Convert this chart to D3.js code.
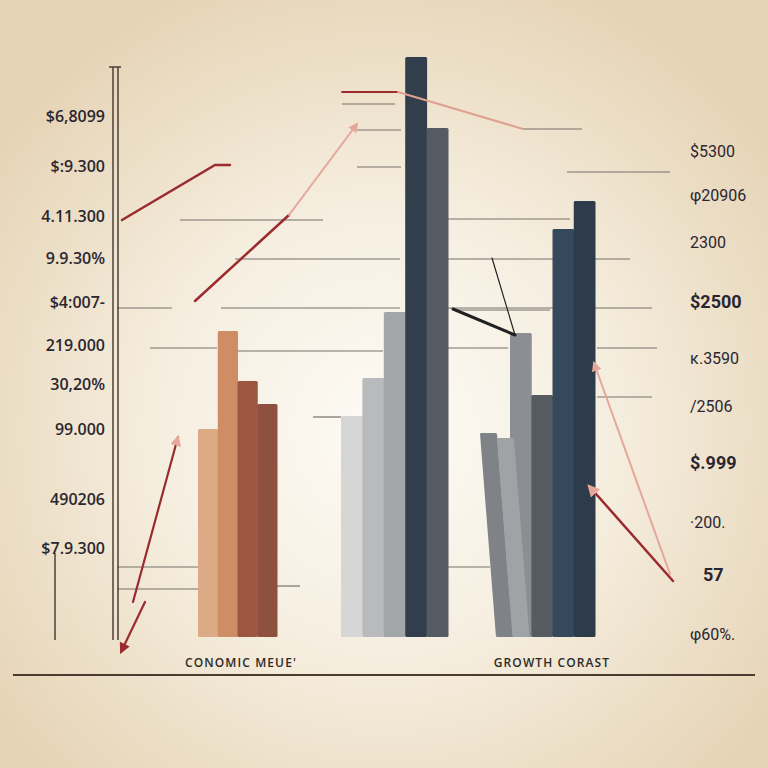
<!DOCTYPE html>
<html><head><meta charset="utf-8">
<script src="https://cdn.jsdelivr.net/npm/d3@7"></script>
<style>html,body{margin:0;padding:0;background:#efe3cc;}svg{display:block;}</style>
</head><body>
<script>
// ---- data ----
const econCategories = ["E1","E2","E3","E4"];
const econValues = [208, 306, 256, 233];
const midCategories = ["M1","M2","M3","M4","M5"];
const midValues = [221, 259, 325, 580, 509];
const growthTiltCategories = ["G1","G2"];
const growthTiltValues = [204, 199];
const growthCategories = ["G3","G4","G5","G6"];
const growthValues = [304, 242, 408, 436];
const leftTickLabels = ["$6,8099","$:9.300","4.11.300","9.9.30%","$4:007-","219.000","30,20%","99.000","490206","$7.9.300"];
const leftTickValues = [521, 471, 421, 379, 335, 292, 253, 208, 138, 89];
const rightTickLabels = ["$5300","\u03C620906","2300","$2500","\u03BA.3590","/2506","$.999","\u00B7200.","57","\u03C660%."];
const rightTickValues = [486, 442, 395, 335, 279, 231, 174, 115, 62, 3];
const groupLabels = ["CONOMIC MEUE'","GROWTH CORAST"];

const econColors = ["#dcaa85","#cf8d66","#9c5641","#8e5140"];
const midColors = ["#d6d6d4","#b8babb","#a3a6a9","#323e4b","#555b62"];
const tiltColors = ["#7f8286","#a0a3a6"];
const growthColors = ["#8b8f93","#565b61","#36495c","#2d3b4a"];

const W = 768, H = 768;
const svg = d3.select("body").append("svg").attr("width", W).attr("height", H);
const defs = svg.append("defs");
const bg = defs.append("radialGradient").attr("id","bg").attr("cx","0.5").attr("cy","0.56").attr("r","0.62");
bg.append("stop").attr("offset","0").attr("stop-color","#fdfbf6");
bg.append("stop").attr("offset","0.45").attr("stop-color","#f6efe1");
bg.append("stop").attr("offset","1").attr("stop-color","#e6d4b6");
svg.append("rect").attr("width",W).attr("height",H).attr("fill","url(#bg)");

function marker(id, color) {
  defs.append("marker").attr("id", id).attr("viewBox","0 0 10 10").attr("refX",8).attr("refY",5)
    .attr("markerWidth",5).attr("markerHeight",5).attr("orient","auto")
    .append("path").attr("d","M0,0 L10,5 L0,10 Z").attr("fill", color);
}
marker("mPink","#e6a69a");
marker("mRed","#9b2b2e");

const y = d3.scaleLinear().domain([0, 580]).range([637, 57]);

// ---- grid fragments ----
const grid = [
  [342,395,533],[523,582,508],[357,401,507],[357,401,470],[567,670,465],
  [180,323,417],[448,570,418],[235,400,378],[448,630,378],
  [117,172,329],[221,400,329],[448,652,329],[453,550,327],
  [150,217,289],[237,383,286],[448,508,289],[597,657,289],[597,652,240],
  [313,341,220],[117,198,70],[448,490,70],[117,198,48],[277,300,51]
];
svg.append("g").selectAll("line").data(grid).join("line")
  .attr("x1",d=>d[0]).attr("x2",d=>d[1]).attr("y1",d=>y(d[2])).attr("y2",d=>y(d[2]))
  .attr("stroke","#77716a").attr("stroke-width",1.2);

// ---- bars ----
function bars(cats, vals, colors, x0, x1, cls, skew) {
  const x = d3.scaleBand().domain(cats).range([x0, x1]).padding(0);
  const g = svg.append("g").attr("class", cls);
  if (skew) g.attr("transform", `translate(0,${y(0)}) skewX(${skew}) translate(0,${-y(0)})`);
  g.selectAll("rect").data(vals).join("rect")
    .attr("x",(d,i)=>x(cats[i])).attr("width",x.bandwidth()+0.5)
    .attr("y",d=>y(d)).attr("height",d=>y(0)-y(d))
    .attr("rx",1.5).attr("fill",(d,i)=>colors[i]);
}
bars(econCategories, econValues, econColors, 198, 277, "econ");
bars(midCategories, midValues, midColors, 341, 448, "mid");
bars(growthCategories, growthValues, growthColors, 510, 595, "growth");
bars(growthTiltCategories, growthTiltValues, tiltColors, 496, 529, "tilt", 4.5);

// ---- axes ----
const ax = svg.append("g").attr("stroke","#4a4038").attr("stroke-width",1.5);
ax.append("line").attr("x1",113).attr("x2",113).attr("y1",67).attr("y2",640);
ax.append("line").attr("x1",118).attr("x2",118).attr("y1",67).attr("y2",640);
ax.append("line").attr("x1",109).attr("x2",121).attr("y1",67).attr("y2",67);
ax.append("line").attr("x1",55).attr("x2",55).attr("y1",553).attr("y2",640);
svg.append("line").attr("x1",13).attr("x2",755).attr("y1",675).attr("y2",675)
  .attr("stroke","#4a3a30").attr("stroke-width",2);

// ---- arrows ----
const arrows = svg.append("g").attr("fill","none").attr("stroke-linecap","round");
arrows.append("polyline").attr("points","122,220 215,165 230,165").attr("stroke","#9b2b2e").attr("stroke-width",2.5);
arrows.append("line").attr("x1",195).attr("y1",301).attr("x2",289).attr("y2",215).attr("stroke","#9b2b2e").attr("stroke-width",2.5);
arrows.append("line").attr("x1",289).attr("y1",215).attr("x2",357).attr("y2",124).attr("stroke","#e6a69a").attr("stroke-width",2).attr("marker-end","url(#mPink)");
arrows.append("line").attr("x1",342).attr("y1",92).attr("x2",398).attr("y2",92).attr("stroke","#9b2b2e").attr("stroke-width",2);
arrows.append("line").attr("x1",398).attr("y1",92).attr("x2",523).attr("y2",129).attr("stroke","#e0a090").attr("stroke-width",2);
arrows.append("line").attr("x1",133).attr("y1",602).attr("x2",178).attr("y2",437).attr("stroke","#9b2b2e").attr("stroke-width",2.2).attr("marker-end","url(#mPink)");
arrows.append("line").attr("x1",145).attr("y1",602).attr("x2",121).attr("y2",652).attr("stroke","#9b2b2e").attr("stroke-width",2.2).attr("marker-end","url(#mRed)");
arrows.append("line").attr("x1",453).attr("y1",309).attr("x2",515).attr("y2",335).attr("stroke","#222").attr("stroke-width",3);
arrows.append("line").attr("x1",492).attr("y1",258).attr("x2",515).attr("y2",335).attr("stroke","#222").attr("stroke-width",1.2);
arrows.append("line").attr("x1",670).attr("y1",574).attr("x2",594).attr("y2",363).attr("stroke","#e6a69a").attr("stroke-width",2).attr("marker-end","url(#mPink)");
arrows.append("line").attr("x1",673).attr("y1",581).attr("x2",589).attr("y2",486).attr("stroke","#9b2b2e").attr("stroke-width",2.5).attr("marker-end","url(#mPink)");

// ---- labels ----
svg.append("g").selectAll("text").data(leftTickLabels).join("text")
  .attr("x",105).attr("y",(d,i)=>y(leftTickValues[i])).attr("dy","0.35em")
  .attr("text-anchor","end").attr("font-family","Open Sans").attr("font-weight",600)
  .attr("font-size",16).attr("fill","#2a2630").text(d=>d);
svg.append("g").selectAll("text").data(rightTickLabels).join("text")
  .attr("x",(d,i)=>i===8?703:690).attr("y",(d,i)=>y(rightTickValues[i])).attr("dy","0.35em")
  .attr("text-anchor","start").style("font-family","Roboto, 'Open Sans', sans-serif")
  .attr("font-weight",(d,i)=>[3,6,8].includes(i)?700:400)
  .attr("font-size",(d,i)=>[3,6,8].includes(i)?18:16).attr("fill","#2a2630").text(d=>d);
svg.append("g").selectAll("text").data(groupLabels).join("text")
  .attr("x",(d,i)=>[241,552][i]).attr("y",663).attr("dy","0.35em").attr("text-anchor","middle")
  .attr("font-family","Open Sans").attr("font-weight",600).attr("font-size",12)
  .attr("letter-spacing",1.1).attr("fill","#2e2a28").text(d=>d);
</script>
</body></html>
